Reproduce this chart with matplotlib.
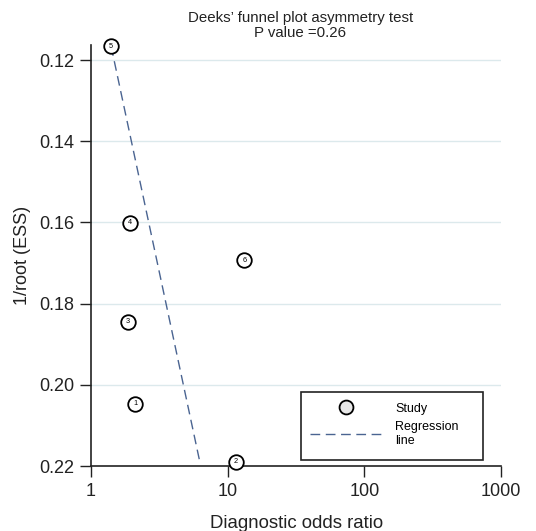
import matplotlib
matplotlib.use("Agg")
import matplotlib.pyplot as plt
from matplotlib.lines import Line2D
from matplotlib.patches import Rectangle

plt.rcParams['font.family'] = ['Liberation Sans', 'DejaVu Sans']

study_ids = ["1", "2", "3", "4", "5", "6"]
dor = [2.1, 11.5, 1.86, 1.93, 1.40, 13.2]
inv_root_ess = [0.2047, 0.2190, 0.1845, 0.1601, 0.1166, 0.1693]
reg_x = [1.40, 6.27]
reg_y = [0.1166, 0.2193]
yticks = [0.12, 0.14, 0.16, 0.18, 0.20, 0.22]
xticks = [1, 10, 100, 1000]
xticklabels = ["1", "10", "100", "1000"]

fig = plt.figure(figsize=(5.36, 5.31), dpi=100)
ax = fig.add_axes([0.170, 0.1224, 0.765, 0.7928])

for y in yticks[:-1]:
    ax.axhline(y, color="#dce9ec", lw=1, zorder=0)

ax.plot(reg_x, reg_y, color="#4a6491", lw=1, dashes=(7, 4), zorder=2)
ax.scatter(dor, inv_root_ess, s=110, facecolor="white", edgecolor="black",
           linewidth=1.3, zorder=3, clip_on=False)
for sid, x, y in zip(study_ids, dor, inv_root_ess):
    ax.text(x, y, sid, fontsize=5.3, ha="center", va="center", zorder=4)

ax.set_xscale("log")
ax.set_xlim(1, 1000)
ax.set_ylim(0.22, 0.1163)
ax.set_xticks(xticks)
ax.set_xticklabels(xticklabels)
ax.minorticks_off()
ax.set_yticks(yticks)
ax.set_yticklabels([f"{v:.2f}" for v in yticks])
ax.tick_params(axis="both", labelsize=13, length=8, width=1.0, direction="out",
               pad=4, colors="#222222", labelcolor="#222222")
for s in ["top", "right"]:
    ax.spines[s].set_visible(False)
for s in ["left", "bottom"]:
    ax.spines[s].set_linewidth(1.2)
    ax.spines[s].set_color("#222222")

ax.set_xlabel("Diagnostic odds ratio", fontsize=13.4, labelpad=11, color="#222222")
ax.set_ylabel("1/root (ESS)", fontsize=13, labelpad=6, color="#222222")
ax.set_title("Deeks\u2019 funnel plot asymmetry test\nP value =0.26", fontsize=10.8,
             linespacing=1.1, pad=6, color="#222222", x=0.51)

# legend frame
ax.add_patch(Rectangle((0.512, 0.014), 0.444, 0.162, transform=ax.transAxes,
                       facecolor="white", edgecolor="#222222", lw=1.2,
                       zorder=5, clip_on=False))
handles = [Line2D([], [], marker="o", ls="none", markerfacecolor="#e8e8e8",
                  markeredgecolor="black", markersize=10, markeredgewidth=1.3),
           Line2D([], [], color="#4a6491", lw=1, dashes=(7, 4))]
leg = ax.legend(handles, ["Study", "Regression\nline"], loc="center left",
                bbox_to_anchor=(0.534, 0.098), fontsize=9, frameon=False,
                handlelength=5.8, borderpad=0, labelspacing=0.5,
                handletextpad=1.0, borderaxespad=0)
leg.set_zorder(6)

fig.savefig("out.png", dpi=100)
